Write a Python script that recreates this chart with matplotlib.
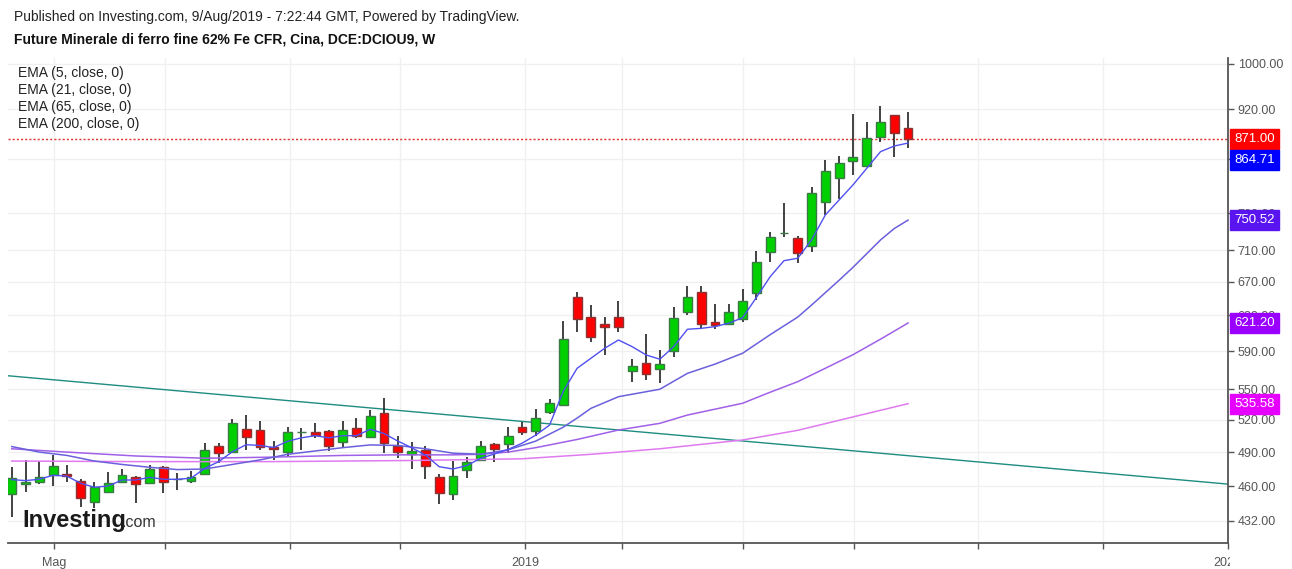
import matplotlib
matplotlib.use("Agg")
import matplotlib.pyplot as plt
from matplotlib.ticker import NullLocator, FixedLocator
from matplotlib.patches import Rectangle

plt.rcParams['font.family'] = ['Liberation Sans', 'DejaVu Sans']

W, H = 1292, 569

# weekly candles (bar 1 = first visible week)
opens = [453.4, 461.8, 463.8, 469.5, 470.6, 464.9, 447.3, 455.1, 463.5, 468.3,
         462.9, 477.0, 466.1, 464.6, 470.6, 495.8, 489.7, 511.0, 510.3, 494.8,
         490.3, 508.1, 508.4, 509.4, 499.4, 512.5, 504.0, 526.2, 495.8, 487.9,
         491.8, 467.8, 453.4, 474.1, 482.9, 497.3, 497.0, 513.4, 509.4, 527.8,
         534.3, 652.0, 628.5, 620.1, 628.5, 569.0, 577.5, 570.8, 590.1, 634.2,
         658.0, 622.1, 619.8, 625.5, 656.1, 707.4, 733.0, 725.8, 716.1, 776.4,
         810.4, 836.7, 828.5, 874.0, 910.5, 889.2]
highs = [476.4, 482.9, 482.3, 487.3, 478.5, 466.0, 464.0, 472.6, 474.7, 469.0,
         478.5, 477.5, 471.8, 473.2, 498.5, 498.5, 520.7, 524.5, 518.8, 500.4,
         513.4, 511.9, 516.6, 510.0, 518.8, 521.9, 529.4, 541.5, 504.7, 498.9,
         495.8, 470.4, 482.0, 485.8, 500.1, 498.0, 512.8, 518.1, 530.1, 540.2,
         623.9, 658.0, 642.2, 627.8, 646.9, 581.5, 608.8, 591.2, 639.4, 665.0,
         665.4, 643.3, 643.3, 661.3, 709.5, 734.7, 774.1, 729.0, 797.5, 838.2,
         844.4, 912.2, 899.4, 926.2, 910.5, 916.2]
lows = [434.6, 455.1, 461.8, 460.7, 464.0, 443.2, 441.9, 454.5, 462.7, 446.0,
        461.8, 454.2, 457.0, 462.7, 469.9, 480.0, 489.2, 491.8, 491.8, 482.9,
        485.8, 491.8, 502.6, 491.0, 494.8, 502.6, 503.5, 488.8, 484.4, 475.0,
        466.4, 445.2, 448.7, 467.5, 482.5, 480.9, 488.8, 505.5, 505.0, 525.2,
        533.8, 611.4, 599.6, 585.8, 610.7, 557.7, 559.4, 556.0, 583.9, 630.5,
        614.1, 614.1, 619.5, 622.7, 648.1, 694.5, 728.0, 693.2, 708.2, 757.6,
        779.8, 816.0, 828.0, 866.0, 843.3, 856.3]
closes = [467.0, 464.0, 468.3, 477.3, 468.6, 450.1, 459.3, 462.9, 469.5, 461.8,
          475.2, 464.0, 466.4, 468.3, 491.8, 488.8, 516.6, 504.0, 494.8, 492.4,
          508.1, 508.3, 505.5, 495.8, 510.3, 505.0, 523.8, 498.0, 490.3, 491.0,
          477.9, 454.2, 469.2, 481.4, 495.8, 492.7, 505.0, 508.1, 521.3, 535.9,
          603.2, 625.5, 605.8, 617.1, 617.1, 574.4, 565.6, 575.8, 626.6, 652.0,
          619.8, 619.4, 634.2, 646.9, 695.3, 727.2, 733.6, 706.2, 788.5, 821.8,
          834.0, 843.3, 873.4, 898.4, 880.9, 871.0]

# EMA lines
ema5 = [465.8, 465.0, 466.1, 469.6, 468.8, 462.7, 459.3, 460.4, 465.5, 465.5,
        467.8, 466.1, 466.1, 467.0, 475.6, 481.4, 490.3, 496.7, 496.0, 494.1,
        499.8, 503.0, 505.0, 503.0, 505.0, 505.0, 511.0, 507.0, 500.0, 494.0,
        487.3, 477.0, 475.0, 478.0, 484.4, 488.3, 492.4, 498.0, 505.5, 514.9,
        548.0, 571.6, 582.2, 593.0, 602.1, 594.7, 585.8, 581.2, 594.7, 614.1,
        615.1, 617.1, 621.0, 627.3, 651.0, 676.4, 696.6, 699.7, 723.6, 757.6,
        778.8, 800.5, 825.4, 851.1, 860.0, 864.71]
ema21_bars = [1, 3, 5, 7, 9, 11, 13, 15, 17, 19, 21, 23, 25, 27, 29, 31, 33, 35,
              37, 39, 41, 42, 43, 45, 48, 50, 52, 54, 56, 58, 59, 61, 62, 64, 65, 66]
ema21 = [495, 490, 487, 482, 479, 476.5, 474.5, 475, 479, 483, 488, 491, 494,
         496.5, 496, 493, 489, 488, 492, 500, 513, 521.6, 531, 542.5, 550, 566.3,
         576, 587.6, 608, 628, 642, 672, 688, 723.6, 739, 750.52]
ema65_bars = [1, 5, 10, 15, 20, 25, 29, 33, 35, 37, 39, 42, 45, 48, 50, 54, 56,
              58, 60, 62, 64, 65, 66]
ema65 = [493, 490, 486.5, 484.5, 485.5, 487, 487.5, 487.5, 488, 490, 494, 501.5,
         510.3, 516.6, 524.5, 536, 547, 557.7, 571.6, 586, 603, 612, 621.2]
ema200_bars = [1, 10, 20, 30, 38, 43, 48, 54, 58, 62, 66]
ema200 = [482, 481.5, 481.5, 482.5, 484, 488, 493, 501, 510, 522.7, 535.58]

trend_x = [0.73, 89.2]
trend_y = [563.8, 462.0]

ytick_vals = [432, 460, 490, 520, 550, 590, 630, 670, 710, 760, 840, 920, 1000]
xtick_pos = [4.08, 12.09, 21.15, 29.16, 38.22, 45.25, 54.05, 62.06, 71.07, 80.1, 89.17]
xtick_labels = ['Mag', '', '', '', '2019', '', '', '', '', '', '2020']

last_price = 871.0
price_boxes = [(871.00, '#ff0000', 0), (864.71, '#0000ff', -12),
               (750.52, '#5a14f0', 0), (621.20, '#9900ff', 0), (535.58, '#e600ff', 0)]

fig = plt.figure(figsize=(W / 100, H / 100), dpi=100)
ax = fig.add_axes([8 / W, 26 / H, 1220 / W, 485 / H])
ax.set_yscale('log')
ax.set_xlim(0.73, 89.2)
ax.set_ylim(414.6, 1011)

# grid
ax.set_axisbelow(True)
ax.grid(True, color='#f0f0f0', lw=1)

# trendline and last price line
ax.plot(trend_x, trend_y, color='#1e8c80', lw=1, zorder=2)
ax.axhline(last_price, color='#e03030', lw=1, ls=(0, (1.5, 1.5)), zorder=2)

# candles
bars = list(range(1, len(closes) + 1))
for b, o, h, l, c in zip(bars, opens, highs, lows, closes):
    up = c >= o
    ax.vlines(b, l, h, color='#222222', lw=1.2, zorder=3)
    lo, hi = min(o, c), max(o, c)
    ax.bar(b, hi - lo, bottom=lo, width=0.64,
           color='#00d000' if up else '#ff0000',
           edgecolor='#3c7a45' if up else '#8a3535', lw=1, zorder=4)

# EMAs
ax.plot(ema200_bars, ema200, color='#e07af0', lw=1.1, zorder=5)
ax.plot(ema65_bars, ema65, color='#a060e8', lw=1.1, zorder=5)
ax.plot(ema21_bars, ema21, color='#6a60dc', lw=1.1, zorder=5)
ax.plot(bars, ema5, color='#5050f0', lw=1.0, zorder=5)

# axes styling
for s in ['left', 'top']:
    ax.spines[s].set_visible(False)
for s in ['right', 'bottom']:
    ax.spines[s].set_color('#555555')
    ax.spines[s].set_linewidth(1.3)
ax.yaxis.tick_right()
ax.yaxis.set_major_locator(FixedLocator(ytick_vals))
ax.yaxis.set_minor_locator(NullLocator())
ax.set_yticklabels(['%.2f' % v for v in ytick_vals])
ax.set_xticks(xtick_pos, xtick_labels)
ax.tick_params(axis='both', colors='#555555', labelcolor='#555555', labelsize=9,
               length=4, width=1)
ax.tick_params(axis='y', pad=3)
ax.tick_params(axis='x', pad=6)

# price labels on the scale
for val, col, dy in price_boxes:
    ax.annotate('%.2f' % val, xy=(1.0, val), xycoords=('axes fraction', 'data'),
                xytext=(4.5, dy), textcoords='offset points', va='center', ha='left',
                color='white', fontsize=9.5,
                bbox=dict(boxstyle='square,pad=0.3', fc=col, ec=col), zorder=10,
                annotation_clip=False)

# hide the part of the last date label that runs past the scale
fig.patches.append(Rectangle((1229.5 / W, 0), 70 / W, 25 / H, transform=fig.transFigure,
                             fc='white', ec='none', zorder=20))

# header texts
fig.text(14 / W, 1 - 17 / H, 'Published on Investing.com, 9/Aug/2019 - 7:22:44 GMT, Powered by TradingView.',
         fontsize=10, va='center', color='#222222')
fig.text(14 / W, 1 - 40 / H, 'Future Minerale di ferro fine 62% Fe CFR, Cina, DCE:DCIOU9, W',
         fontsize=10, va='center', weight='bold', color='#111111')

legend_labels = ['EMA (5, close, 0)', 'EMA (21, close, 0)', 'EMA (65, close, 0)', 'EMA (200, close, 0)']
for i, lab in enumerate(legend_labels):
    fig.text(18 / W, 1 - (73 + 17 * i) / H, lab, fontsize=10, va='center', color='#222222')

# Investing.com logo
fig.text(22 / W, 1 - 527 / H, 'Investing', fontsize=17, weight='bold',
         family=['Liberation Sans Narrow', 'Liberation Sans'], color='#1a1a1a', va='baseline')
fig.text(122 / W, 1 - 527 / H, '.com', fontsize=11.5, color='#333333', va='baseline')

fig.savefig('out.png', dpi=100)
